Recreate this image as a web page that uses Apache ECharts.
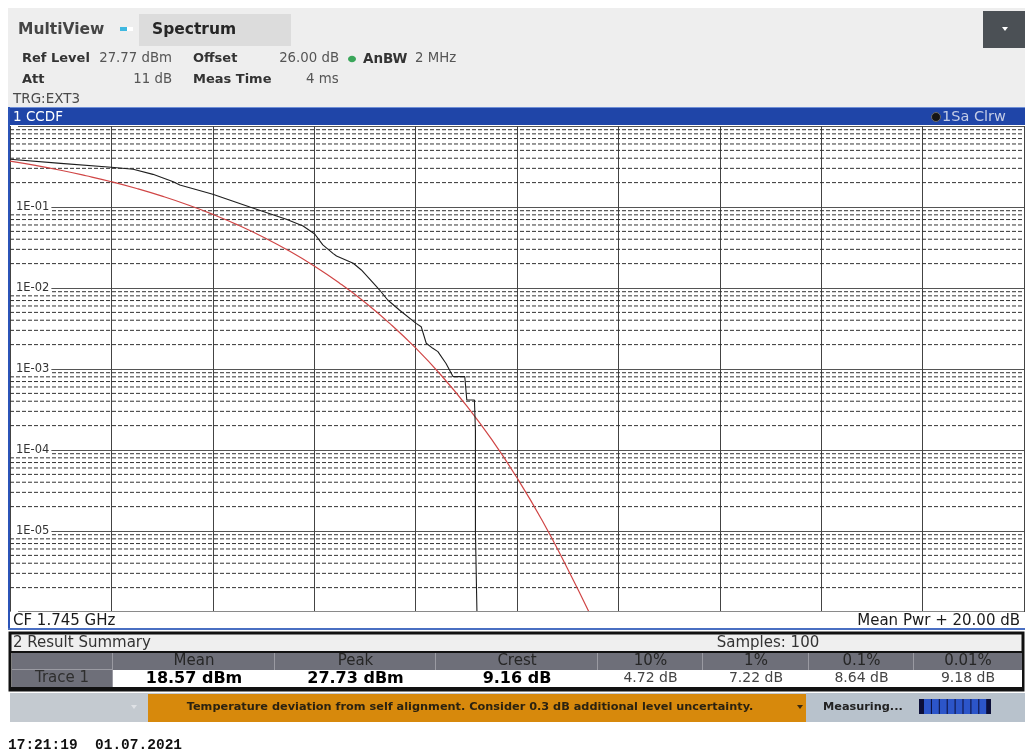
<!DOCTYPE html>
<html>
<head>
<meta charset="utf-8">
<script src="https://cdn.jsdelivr.net/npm/echarts@6/dist/echarts.min.js"></script>
<style>
html,body{margin:0;padding:0;background:#fff;}
#chart{width:1025px;height:751px;}
</style>
</head>
<body>
<div id="chart"></div>
<script>
// ---- data ----
// measured CCDF trace (x: dB above mean power, y: probability)
const traceDb   = [0, 1.0, 2.0, 2.43, 2.82, 3.22, 3.35, 4.0, 4.73, 5.45, 5.78, 6.01, 6.17, 6.37, 6.44, 6.77, 6.93, 7.23, 7.29, 7.45, 7.68, 8.01, 8.11, 8.21, 8.34, 8.44, 8.60, 8.74, 8.97, 9.01, 9.16, 9.18, 9.18, 9.21, 9.21];
const traceProb = [0.388, 0.346, 0.309, 0.292, 0.253, 0.205, 0.187, 0.1435, 0.100, 0.0705, 0.0582, 0.0464, 0.034, 0.0268, 0.0248, 0.0202, 0.0167, 0.0104, 0.00944, 0.00711, 0.00535, 0.00366, 0.00333, 0.00208, 0.0018, 0.00164, 0.00117, 0.000804, 0.000804, 0.000414, 0.000414, 0.000178, 0.00001, 0.00001, 0.000001];
// Gaussian reference curve
const refDb   = [0, 0.5, 1, 1.5, 2, 2.5, 3, 3.5, 4, 4.5, 5, 5.5, 6, 6.5, 7, 7.5, 8, 8.5, 9, 9.5, 10, 10.5, 11, 11.42];
const refProb = [0.368, 0.326, 0.284, 0.243, 0.205, 0.169, 0.136, 0.1066, 0.0811, 0.0597, 0.0423, 0.0288, 0.0187, 0.01148, 0.00666, 0.00361, 0.00182, 0.000843, 0.000355, 0.000135, 0.0000454, 0.0000134, 0.0000034, 0.000001];
// axis labels
const yTickLabels = {"-1": "1E-01", "-2": "1E-02", "-3": "1E-03", "-4": "1E-04", "-5": "1E-05"};
const decades = [-6, -5, -4, -3, -2, -1];
const minorMultipliers = [2, 3, 4, 5, 6, 7, 8, 9];
const xRange = [0, 20];
// result summary
const sumHeaders = ["", "Mean", "Peak", "Crest", "10%", "1%", "0.1%", "0.01%"];
const sumValues  = ["Trace 1", "18.57 dBm", "27.73 dBm", "9.16 dB", "4.72 dB", "7.22 dB", "8.64 dB", "9.18 dB"];

const minorSeries = [];
decades.forEach(d => minorMultipliers.forEach(m => {
  const v = m * Math.pow(10, d);
  minorSeries.push({
    type: 'line', z: 1, silent: true, showSymbol: false, symbol: 'none',
    data: [[xRange[0], v], [xRange[1], v]],
    lineStyle: {color: '#333', width: 1, type: [4, 2]}
  });
}));

const F = '"DejaVu Sans", Verdana, sans-serif';
function rect(x, y, w, h, fill, stroke, lw, z) {
  return {type: 'rect', z: z || 10, silent: true, shape: {x: x, y: y, width: w, height: h},
    style: {fill: fill || 'none', stroke: stroke || 'none', lineWidth: lw || 0}};
}
function txt(x, y, s, size, color, opts) {
  opts = opts || {};
  const font = (opts.bold ? 'bold ' : '') + size + 'px ' + (opts.family || F);
  return {type: 'text', z: opts.z || 12, silent: true, x: x, y: y,
    style: {text: s, font: font, fill: color, align: opts.align || 'left', verticalAlign: 'middle',
      textAlign: opts.align || 'left', textVerticalAlign: 'middle'}};
}
function tri(cx, cy, w, h, color) {
  return {type: 'polygon', z: 12, silent: true,
    shape: {points: [[cx - w / 2, cy - h / 2], [cx + w / 2, cy - h / 2], [cx, cy + h / 2]]}, style: {fill: color}};
}

const g = [];
// header
g.push(rect(8, 8, 1017, 99, '#eeeeee'));
g.push(txt(18, 30, 'MultiView', 15.5, '#454545', {bold: true}));
g.push(rect(120, 27, 7, 4, '#3fb8e0'));
g.push(rect(127, 27, 6, 4, '#ffffff'));
g.push(rect(139, 14, 152, 32, '#dcdcdc'));
g.push(txt(152, 30, 'Spectrum', 15.5, '#262626', {bold: true}));
g.push(rect(983, 11, 42, 37, '#4b5055'));
g.push(tri(1005, 29, 6, 4, '#ffffff'));
g.push(txt(22, 59, 'Ref Level', 13, '#333', {bold: true}));
g.push(txt(172, 59, '27.77 dBm', 13.3, '#555', {align: 'right'}));
g.push(txt(193, 59, 'Offset', 13, '#333', {bold: true}));
g.push(txt(339, 59, '26.00 dB', 13.3, '#555', {align: 'right'}));
g.push({type: 'ellipse', z: 12, silent: true, shape: {cx: 352, cy: 59, rx: 4, ry: 3.2}, style: {fill: '#3aa65a'}});
g.push(txt(363, 59, 'AnBW', 13.5, '#333', {bold: true}));
g.push(txt(415, 59, '2 MHz', 13.3, '#555'));
g.push(txt(22, 80, 'Att', 13, '#333', {bold: true}));
g.push(txt(172, 80, '11 dB', 13.3, '#555', {align: 'right'}));
g.push(txt(193, 80, 'Meas Time', 13, '#333', {bold: true}));
g.push(txt(306, 80, '4 ms', 13.3, '#555'));
g.push(txt(13, 99, 'TRG:EXT3', 13.5, '#4a4a4a'));
// window 1 frame
g.push(rect(8, 107, 1017, 18, '#1f45a8'));
g.push(rect(8, 107, 1017, 1, '#6f8fd6'));
g.push(txt(13, 117, '1 CCDF', 13.5, '#ffffff'));
g.push({type: 'circle', z: 12, silent: true, shape: {cx: 936, cy: 117, r: 4.5}, style: {fill: '#151515', stroke: '#6a6a6a', lineWidth: 1}});
g.push(txt(942, 117, '1Sa Clrw', 14.5, '#c3cce6'));
g.push(rect(8, 107, 2, 523, '#2b54b8'));
g.push(rect(10, 612, 1015, 17, '#ffffff', null, 0, 1));
g.push(rect(10, 611, 1014, 1, '#8a8a8a'));
g.push(txt(13, 621, 'CF 1.745 GHz', 15, '#1a1a1a'));
g.push(txt(1020, 621, 'Mean Pwr + 20.00 dB', 15, '#1a1a1a', {align: 'right'}));
g.push(rect(8, 628, 1017, 2, '#4a6fc2'));
// result summary
g.push(rect(10, 633, 1013, 57, '#efefef', '#111', 3));
g.push(txt(13, 643, '2 Result Summary', 15, '#333'));
g.push(txt(768, 643, 'Samples: 100', 15, '#333', {align: 'center'}));
const colEdges = [12, 113, 275, 436, 598, 703, 809, 914, 1022];
g.push(rect(11, 651, 1012, 2, '#111'));
g.push(rect(12, 653, 1010, 17, '#6e6f79'));
g.push(rect(113, 670, 909, 17, '#ffffff'));
g.push(rect(12, 670, 101, 17, '#6e6f79'));
g.push(rect(12, 669, 101, 1, '#9a9aa2'));
for (let i = 1; i < colEdges.length - 1; i++) {
  g.push(rect(colEdges[i] - 1, 653, 1, 17, '#9a9aa2'));
}
g.push(rect(112, 670, 1, 17, '#9a9aa2'));
g.push(rect(11, 687, 1012, 2, '#111'));
for (let i = 1; i < sumHeaders.length; i++) {
  const cx = (colEdges[i] + colEdges[i + 1]) / 2;
  g.push(txt(cx, 661, sumHeaders[i], 15, '#262626', {align: 'center'}));
  const bold = i <= 3;
  g.push(txt(cx, 678.5, sumValues[i], bold ? 16 : 14, bold ? '#000' : '#444', {align: 'center', bold: bold}));
}
g.push(txt(62, 678.5, sumValues[0], 15, '#2e2e2e', {align: 'center'}));
// status bar
g.push(rect(10, 693, 1015, 29, '#c4cad0'));
g.push(rect(148, 694, 658, 28, '#d7890c'));
g.push(rect(806, 693, 219, 29, '#b8c2cc'));
g.push(tri(134, 707, 6, 4, '#dfe2e6'));
g.push(txt(470, 707.5, 'Temperature deviation from self alignment. Consider 0.3 dB additional level uncertainty.', 11.3, '#2b2210', {bold: true, align: 'center'}));
g.push(tri(800, 707, 6, 4, '#3a2a10'));
g.push(txt(823, 707.5, 'Measuring...', 11.3, '#222', {bold: true}));
g.push(rect(919, 699, 72, 15, '#0c0f3a'));
for (let i = 0; i < 8; i++) {
  g.push(rect(924 + i * 7.9, 699, 6.9, 15, '#2c55c9'));
}
g.push(txt(8, 745, '17:21:19  01.07.2021', 14.5, '#111', {bold: true, family: '"Liberation Mono", "DejaVu Sans Mono", monospace'}));

const yBase = {type: 'log', logBase: 10, min: 0.000001, max: 1, splitNumber: 6, axisLine: {show: false}, axisTick: {show: false}};

const chart = echarts.init(document.getElementById('chart'), null, {renderer: 'canvas'});
chart.setOption({
  backgroundColor: '#ffffff',
  animation: false,
  grid: {left: 10, top: 126, width: 1014, height: 486, show: true, backgroundColor: '#ffffff', borderWidth: 0, containLabel: false},
  xAxis: {
    type: 'value', min: xRange[0], max: xRange[1], interval: 2,
    axisLine: {show: false}, axisTick: {show: false}, axisLabel: {show: false},
    splitLine: {show: true, lineStyle: {color: '#444', width: 1}}
  },
  yAxis: [
    Object.assign({}, yBase, {
      axisLabel: {show: false},
      splitLine: {show: true, lineStyle: {color: '#555', width: 1}}
    }),
    Object.assign({}, yBase, {
      position: 'left', z: 20, offset: 0,
      splitLine: {show: false},
      axisLabel: {
        show: true, inside: true, margin: 1, color: '#333', fontSize: 11.5, fontFamily: 'DejaVu Sans',
        backgroundColor: '#ffffff', padding: [1, 2, 1, 5],
        formatter: function (v) { const e = Math.round(Math.log10(v)); return yTickLabels[String(e)] || ''; }
      }
    })
  ],
  series: minorSeries.concat([
    {
      name: 'Reference', type: 'line', z: 3, showSymbol: false, symbol: 'none', smooth: true,
      data: refDb.map((x, i) => [x, refProb[i]]),
      lineStyle: {color: '#d04646', width: 1.2}
    },
    {
      name: 'Trace 1', type: 'line', z: 4, showSymbol: false, symbol: 'none',
      data: traceDb.map((x, i) => [x, traceProb[i]]),
      lineStyle: {color: '#1e1e1e', width: 1.1}
    }
  ]),
  graphic: g
});
</script>
</body>
</html>
